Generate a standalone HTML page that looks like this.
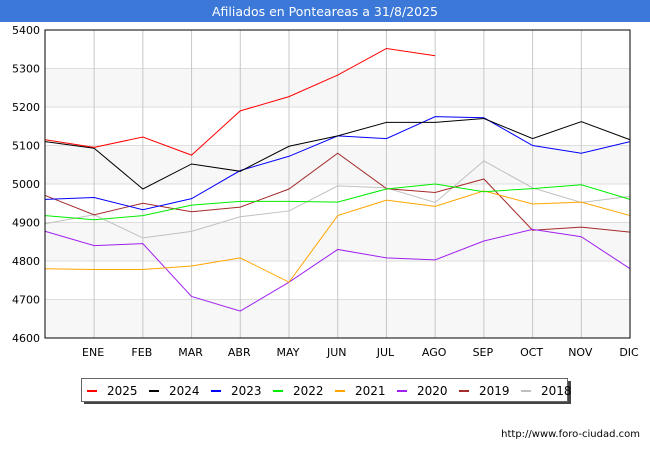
<!DOCTYPE html>
<html><head><meta charset="utf-8"><style>
body{margin:0;width:650px;height:450px;background:#fff;font-family:"Liberation Sans","DejaVu Sans",sans-serif;overflow:hidden}
</style></head><body>
<svg width="650" height="450" xmlns="http://www.w3.org/2000/svg" font-family="DejaVu Sans, Liberation Sans, sans-serif">
<rect x="0" y="0" width="650" height="22" fill="#3b78d8"/>
<text x="325" y="16" text-anchor="middle" fill="#fff" font-size="12.5">Afiliados en Ponteareas a 31/8/2025</text>
<g id="bands"></g><g id="grid"></g><g id="series"></g>
<rect x="45" y="30" width="585" height="308" fill="none" stroke="#000" stroke-width="1"/>
<g id="yt" font-size="11" text-anchor="end"></g><g id="xt" font-size="11" text-anchor="middle"></g>
<rect x="84" y="381" width="487" height="23" fill="#444"/>
<rect x="81.5" y="378.5" width="486" height="23" fill="#fff" stroke="#666"/>
<g id="leg" font-size="12"></g>
<text x="640" y="437" text-anchor="end" font-size="10" fill="#000">http://www.foro-ciudad.com</text>
</svg>
<script>
const months=["","ENE","FEB","MAR","ABR","MAY","JUN","JUL","AGO","SEP","OCT","NOV","DIC"];
const yTicks=[4600,4700,4800,4900,5000,5100,5200,5300,5400];
const years=["2025","2024","2023","2022","2021","2020","2019","2018"];
const colors=["#ff0000","#000000","#0000ff","#00ee00","#ffa500","#a020f0","#a52a2a","#c0c0c0"];
const s2025=[5115,5095,5122,5075,5190,5227,5283,5352,5333];
const s2024=[5110,5093,4987,5052,5033,5098,5125,5160,5160,5170,5118,5162,5115];
const s2023=[4960,4965,4933,4962,5035,5072,5125,5118,5175,5172,5100,5080,5110];
const s2022=[4918,4907,4918,4945,4955,4955,4953,4987,5000,4980,4988,4998,4960];
const s2021=[4780,4778,4778,4787,4808,4745,4918,4958,4942,4982,4948,4953,4918];
const s2020=[4877,4840,4845,4708,4670,4745,4830,4808,4803,4852,4882,4863,4780];
const s2019=[4970,4920,4950,4928,4940,4987,5080,4988,4978,5013,4880,4888,4875];
const s2018=[4897,4920,4860,4877,4915,4930,4995,4990,4952,5060,4990,4952,4968];
const all=[s2025,s2024,s2023,s2022,s2021,s2020,s2019,s2018];
const NS="http://www.w3.org/2000/svg";
const X=i=>45.4+i*48.72, Y=v=>338-(v-4600)*308/800;
function mk(t,a,p){const e=document.createElementNS(NS,t);for(const k in a)e.setAttribute(k,a[k]);p.appendChild(e);return e;}
const bands=document.getElementById('bands'),grid=document.getElementById('grid');
for(let k=0;k<yTicks.length-1;k++){if(k%2==0){const r=mk('rect',{x:45,y:Y(yTicks[k+1]),width:585,height:Y(yTicks[k])-Y(yTicks[k+1]),fill:'#f7f7f7'},bands);

}}
yTicks.forEach(v=>{const l=mk('line',{x1:45,x2:630,y1:Y(v),y2:Y(v),stroke:'#ddd'},grid);


const t=mk('text',{x:40,y:Y(v)+4},document.getElementById('yt'));t.textContent=v;

});
months.forEach((m,i)=>{if(i==0)return;const l=mk('line',{x1:X(i),x2:X(i),y1:30,y2:338,stroke:'#c8c8c8'},grid);


const t=mk('text',{x:X(i)-1,y:356},document.getElementById('xt'));t.textContent=m;

});
const sg=document.getElementById('series');
for(let k=all.length-1;k>=0;k--){const p=mk('polyline',{points:all[k].map((v,i)=>X(i)+','+Y(v)).join(' '),fill:'none',stroke:colors[k],'stroke-width':1},sg);

}
const lg=document.getElementById('leg');
years.forEach((y,k)=>{const x0=87+k*62;const l=mk('line',{x1:x0,x2:x0+10,y1:391,y2:391,stroke:colors[k],'stroke-width':2},lg);


const t=mk('text',{x:x0+20,y:395},lg);t.textContent=y;

});
</script>
</body></html>
